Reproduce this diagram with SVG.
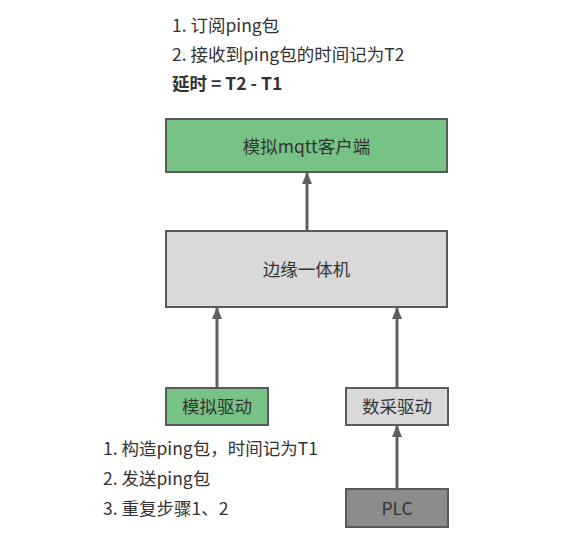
<svg xmlns="http://www.w3.org/2000/svg" width="575" height="535" viewBox="0 0 575 535">
<defs>
<style>
.t{font-family:"Noto Sans CJK SC","Microsoft YaHei",sans-serif;font-size:17.5px;fill:#333333}
.c{text-anchor:middle}
.b{font-weight:bold}
.box{stroke:#5a5a5a;stroke-width:2}
.g{fill:#77c386}
.l{fill:#d9d9d9}
.d{fill:#8c8c8c}
.e{stroke:#5f5f5f;stroke-width:3;fill:none}
</style>
<marker id="ah" viewBox="0 0 12 10" refX="11" refY="5" markerWidth="4" markerHeight="3.33" markerUnits="strokeWidth" orient="auto">
<path d="M0,0 L12,5 L0,10 z" fill="#5f5f5f"/>
</marker>
</defs>
<rect width="575" height="535" fill="#ffffff"/>
<g id="notes-top">
<text class="t" x="172" y="32">1. 订阅ping包</text>
<text class="t" x="172" y="61">2. 接收到ping包的时间记为T2</text>
<text class="t b" x="172" y="90">延时 = T2 - T1</text>
</g>
<g id="node-mqtt">
<rect class="box g" x="166" y="119" width="281" height="53"/>
<text class="t c" x="306.5" y="153">模拟mqtt客户端</text>
</g>
<g id="node-edge">
<rect class="box l" x="166" y="231" width="281" height="76"/>
<text class="t c" x="306.5" y="276">边缘一体机</text>
</g>
<g id="node-simdrv">
<rect class="box g" x="166" y="388" width="102" height="37"/>
<text class="t c" x="217" y="413">模拟驱动</text>
</g>
<g id="node-daqdrv">
<rect class="box l" x="346" y="388" width="102" height="37"/>
<text class="t c" x="397" y="413">数采驱动</text>
</g>
<g id="node-plc">
<rect class="box d" x="346" y="489" width="102" height="38"/>
<text class="t c" x="397" y="515">PLC</text>
</g>
<g id="notes-bottom">
<text class="t" x="103" y="455">1. 构造ping包，时间记为T1</text>
<text class="t" x="103" y="485">2. 发送ping包</text>
<text class="t" x="103" y="515">3. 重复步骤1、2</text>
</g>
<g id="connectors">
<line class="e" x1="307" y1="231" x2="307" y2="173" marker-end="url(#ah)"/>
<line class="e" x1="217" y1="388" x2="217" y2="308" marker-end="url(#ah)"/>
<line class="e" x1="397" y1="388" x2="397" y2="308" marker-end="url(#ah)"/>
<line class="e" x1="397" y1="489" x2="397" y2="426" marker-end="url(#ah)"/>
</g>
</svg>
